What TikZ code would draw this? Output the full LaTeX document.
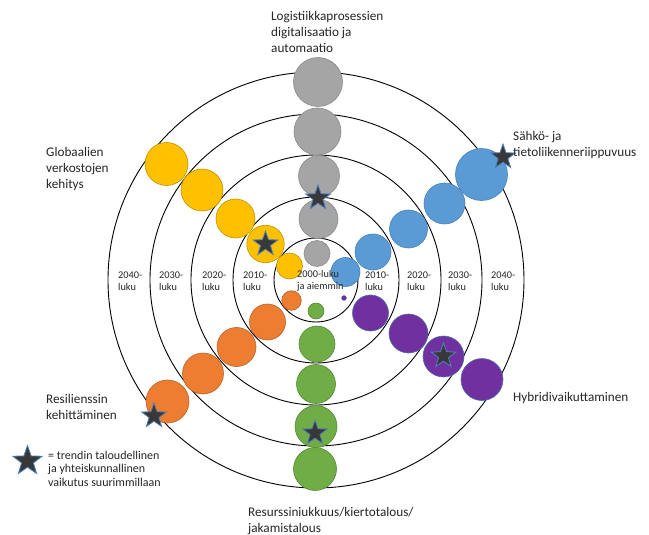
\documentclass[tikz,border=0pt]{standalone}
\usepackage{fontspec}
\setmainfont{Carlito}
\usetikzlibrary{shapes.geometric}
\definecolor{cgray}{HTML}{A5A5A5}
\definecolor{cgrayd}{HTML}{8A8A8A}
\definecolor{cyel}{HTML}{FFC000}
\definecolor{cyeld}{HTML}{C09200}
\definecolor{cblue}{HTML}{5B9BD5}
\definecolor{cblued}{HTML}{4A80B5}
\definecolor{cpur}{HTML}{7030A0}
\definecolor{cpurd}{HTML}{4A6FA5}
\definecolor{cora}{HTML}{ED7D31}
\definecolor{corad}{HTML}{B8622A}
\definecolor{cgre}{HTML}{70AD47}
\definecolor{cgred}{HTML}{558A35}
\definecolor{cstar}{HTML}{383838}
\definecolor{cstarb}{HTML}{4F81BD}
\definecolor{ctext}{HTML}{262626}
\begin{document}
\begin{tikzpicture}[x=1pt,y=-1pt,
  ring/.style={draw=black, line width=0.9pt, circle, inner sep=0pt},
  bub/.style={circle, inner sep=0pt, line width=0.6pt},
  gr/.style={bub, fill=cgray, draw=cgrayd},
  ye/.style={bub, fill=cyel, draw=cyeld},
  bl/.style={bub, fill=cblue, draw=cblued},
  pu/.style={bub, fill=cpur, draw=cpurd},
  orb/.style={bub, fill=cora, draw=corad},
  gn/.style={bub, fill=cgre, draw=cgred},
  starm/.style={star, star points=5, star point ratio=2.5, fill=cstar, draw=cstarb, line width=0.8pt, minimum size=26pt, inner sep=0pt},
  lab/.style={anchor=west, align=left, text=ctext, inner sep=0pt, font=\fontsize{13.2}{16}\selectfont},
  yr/.style={anchor=west, align=left, text=ctext, inner sep=0pt, font=\fontsize{10.3}{12}\selectfont},
  leg/.style={anchor=west, align=left, text=ctext, inner sep=0pt, font=\fontsize{12}{13.5}\selectfont}
]
\useasboundingbox (0,0) rectangle (649,535);
\fill[white] (0,0) rectangle (649,535);
\coordinate (c) at (316,280);
% rings
\node[ring, minimum size=84pt] (r1) at (c) {};
\node[ring, minimum size=166pt] (r2) at (c) {};
\node[ring, minimum size=250pt] (r3) at (c) {};
\node[ring, minimum size=332pt] (r4) at (c) {};
\node[ring, minimum size=416pt] (r5) at (c) {};
% gray
\node[gr, minimum size=49pt] (g5) at (318,82) {};
\node[gr, minimum size=47pt] (g4) at (317.5,131.5) {};
\node[gr, minimum size=41pt] (g3) at (319,176) {};
\node[gr, minimum size=39pt] (g2) at (318.5,219) {};
\node[gr, minimum size=26pt] (g1) at (317,253.5) {};
% yellow
\node[ye, minimum size=26pt] (y1) at (289.5,266) {};
\node[ye, minimum size=37.5pt] (y2) at (265.5,244) {};
\node[ye, minimum size=39pt] (y3) at (235.5,218.5) {};
\node[ye, minimum size=42pt] (y4) at (202,190) {};
\node[ye, minimum size=43pt] (y5) at (166.5,164) {};
% blue
\node[bl, minimum size=29pt] (b1) at (345.5,272) {};
\node[bl, minimum size=36pt] (b2) at (373,252) {};
\node[bl, minimum size=38pt] (b3) at (408.5,229) {};
\node[bl, minimum size=41pt] (b4) at (444.5,203.5) {};
\node[bl, minimum size=52pt] (b5) at (481.5,174.5) {};
% purple
\node[pu, minimum size=5pt, line width=0.3pt] (p1) at (344,298) {};
\node[pu, minimum size=36pt] (p2) at (370.5,313) {};
\node[pu, minimum size=39pt] (p3) at (408.5,333.5) {};
\node[pu, minimum size=41pt] (p4) at (443.5,356.5) {};
\node[pu, minimum size=42pt] (p5) at (482,379.5) {};
% orange
\node[orb, minimum size=19.5pt] (o1) at (291.5,300.5) {};
\node[orb, minimum size=36pt] (o2) at (267.5,322) {};
\node[orb, minimum size=39pt] (o3) at (236.5,347) {};
\node[orb, minimum size=41pt] (o4) at (203,373.5) {};
\node[orb, minimum size=43pt] (o5) at (167.5,401.5) {};
% green
\node[gn, minimum size=16pt] (e1) at (316,311) {};
\node[gn, minimum size=36pt] (e2) at (317,344) {};
\node[gn, minimum size=39pt] (e3) at (316,384) {};
\node[gn, minimum size=42pt] (e4) at (316,426.5) {};
\node[gn, minimum size=43pt] (e5) at (315,469) {};
% stars
\node[starm] (s1) at (318,198) {};
\node[starm] (s2) at (265.5,244) {};
\node[starm] (s3) at (503,157) {};
\node[starm] (s4) at (443.5,356) {};
\node[starm] (s5) at (154,416) {};
\node[starm] (s6) at (315,433) {};
\node[starm, minimum size=31pt] (s7) at (27.5,461) {};
% year labels
\node[yr] (t40l) at (118,281) {2040-\\luku};
\node[yr] (t30l) at (159,281) {2030-\\luku};
\node[yr] (t20l) at (202,281) {2020-\\luku};
\node[yr] (t10l) at (243,281) {2010-\\luku};
\node[yr] (t00) at (297,281) {2000-luku\\ja aiemmin};
\node[yr] (t10r) at (365,281) {2010-\\luku};
\node[yr] (t20r) at (407,281) {2020-\\luku};
\node[yr] (t30r) at (448,281) {2030-\\luku};
\node[yr] (t40r) at (491,281) {2040-\\luku};
% trend labels
\node[lab] (l1) at (271,31.5) {Logistiikkaprosessien\\digitalisaatio ja\\automaatio};
\node[lab] (l2) at (513,145) {Sähkö- ja\\tietoliikenneriippuvuus};
\node[lab] (l3) at (46,169) {Globaalien\\verkostojen\\kehitys};
\node[lab] (l4) at (513,398) {Hybridivaikuttaminen};
\node[lab] (l5) at (46,406.5) {Resilienssin\\kehittäminen};
\node[lab] (l6) at (248,521) {Resurssiniukkuus/kiertotalous/\\jakamistalous};
\node[leg] (lg) at (48,468.5) {= trendin taloudellinen\\ja yhteiskunnallinen\\vaikutus suurimmillaan};
\end{tikzpicture}
\end{document}
